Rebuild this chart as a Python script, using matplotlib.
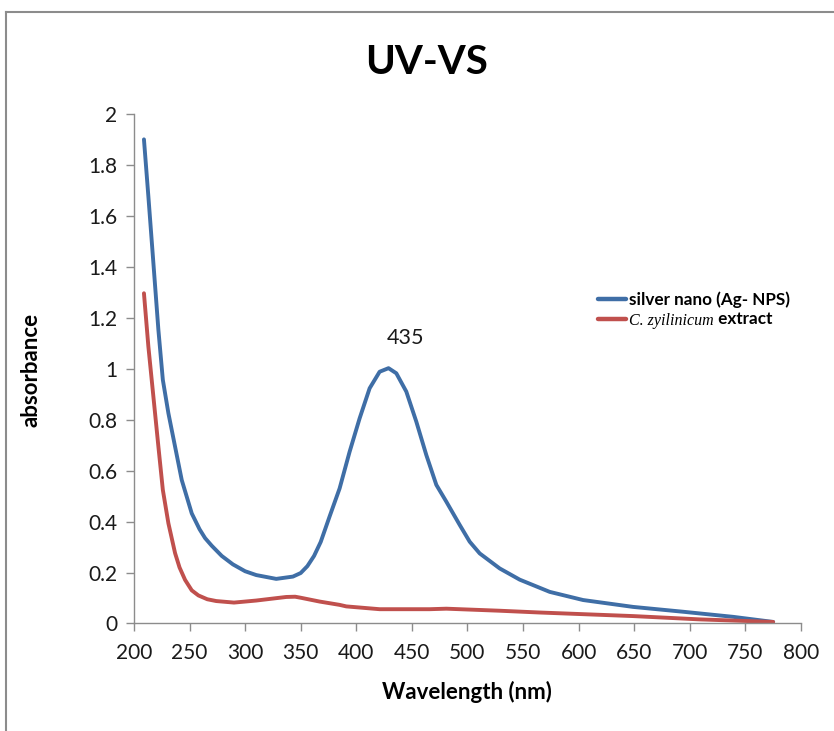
import matplotlib
matplotlib.use("Agg")
import matplotlib.pyplot as plt
from matplotlib.lines import Line2D

plt.rcParams["font.family"] = ["Lato", "DejaVu Sans"]

# silver nano (Ag- NPS)
ag_nm = [209, 213, 217.5, 222, 226, 231, 237, 243, 252, 259, 264, 270, 279,
         289, 300, 310, 328, 343, 350, 356, 362, 368, 376, 385, 394, 403, 412,
         421, 429, 436, 445, 454, 463, 472, 481, 493, 502, 511, 529, 547,
         574, 604, 649, 694, 739, 775]
ag_abs = [1.90, 1.675, 1.414, 1.152, 0.956, 0.825, 0.694, 0.563, 0.432, 0.37,
          0.335, 0.305, 0.265, 0.232, 0.205, 0.190, 0.175, 0.184, 0.198, 0.225,
          0.265, 0.32, 0.42, 0.53, 0.674, 0.805, 0.923, 0.988, 1.002, 0.982,
          0.910, 0.792, 0.661, 0.544, 0.478, 0.387, 0.321, 0.275, 0.216, 0.172,
          0.124, 0.092, 0.065, 0.046, 0.026, 0.006]

# C. zyilinicum extract
cz_nm = [209, 213, 217.5, 222, 226, 231, 237, 241, 246, 252, 258, 266, 274,
         290, 310, 337, 345, 350, 367, 385, 391, 421, 466, 481, 529, 565, 589,
         649, 709, 775]
cz_abs = [1.296, 1.086, 0.89, 0.694, 0.524, 0.393, 0.276, 0.22, 0.171, 0.13,
          0.11, 0.095, 0.088, 0.082, 0.09, 0.104, 0.105, 0.101, 0.086, 0.073,
          0.067, 0.056, 0.056, 0.058, 0.05, 0.043, 0.039, 0.029, 0.016, 0.006]

x_ticks = list(range(200, 801, 50))
y_ticks = [0, 0.2, 0.4, 0.6, 0.8, 1, 1.2, 1.4, 1.6, 1.8, 2]
y_labels = ["0", "0.2", "0.4", "0.6", "0.8", "1", "1.2", "1.4", "1.6", "1.8", "2"]

fig = plt.figure(figsize=(8.34, 7.31), dpi=100)
ax = fig.add_axes([0.1606, 0.1471, 0.7998, 0.6971])

ax.plot(ag_nm, ag_abs, color="#3F6EA6", lw=2.8, solid_capstyle="round",
        solid_joinstyle="round", label="silver nano (Ag- NPS)")
ax.plot(cz_nm, cz_abs, color="#C0504D", lw=2.8, solid_capstyle="round",
        solid_joinstyle="round", label="C. zyilinicum")

ax.set_xlim(200, 800)
ax.set_ylim(0, 2)
ax.set_xticks(x_ticks)
ax.set_yticks(y_ticks)
ax.set_yticklabels(y_labels)

for s in ("top", "right"):
    ax.spines[s].set_visible(False)
for s in ("left", "bottom"):
    ax.spines[s].set_color("#8C8C8C")
    ax.spines[s].set_linewidth(1.0)
ax.tick_params(axis="both", direction="out", length=6, width=1.0,
               color="#8C8C8C", labelsize=15, labelcolor="#1a1a1a")
ax.tick_params(axis="y", pad=6)
ax.tick_params(axis="x", pad=8)

ax.set_xlabel("Wavelength (nm)", fontsize=16, fontweight="bold")
ax.set_ylabel("absorbance", fontsize=16, fontweight="bold")
ax.xaxis.set_label_coords(0.4994, -0.112)
ax.yaxis.set_label_coords(-0.138, 0.497)

ax.text(444, 1.12, "435", ha="center", va="center", fontsize=15.5,
        color="#1a1a1a")

fig.text(0.512, 0.915, "UV-VS", ha="center", va="center", fontsize=29,
         fontweight="bold")

leg = ax.legend(loc="upper left", bbox_to_anchor=(0.696, 0.652), frameon=False,
                borderpad=0, borderaxespad=0,
                handlelength=1.62, handletextpad=0.18, labelspacing=0.32,
                prop={"size": 12.3, "weight": "bold"})
for h in leg.legend_handles:
    h.set_linewidth(3.2)
species = leg.get_texts()[1]
species.set_fontfamily("Liberation Serif")
species.set_fontstyle("italic")
species.set_fontweight("normal")
species.set_fontsize(11.5)
ax.annotate(" extract", xy=(1, 0), xycoords=species, xytext=(0, 1.5),
            textcoords="offset points", ha="left", va="bottom",
            fontsize=12.3, fontweight="bold", zorder=10)

# outer chart frame (top and left edges visible)
fig.add_artist(Line2D([0.0072, 1.0], [0.9836, 0.9836], color="#8C8C8C", lw=1.5))
fig.add_artist(Line2D([0.0072, 0.0072], [0.0, 0.9836], color="#8C8C8C", lw=1.5))

fig.savefig("out.png", dpi=100)
